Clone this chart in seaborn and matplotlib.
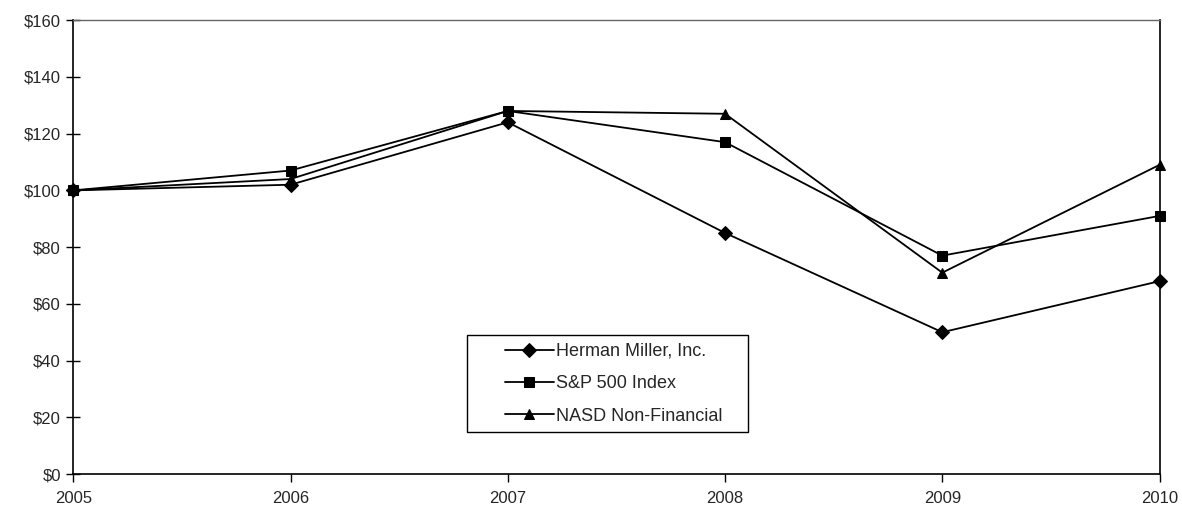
import matplotlib
matplotlib.use("Agg")
import matplotlib.pyplot as plt
import seaborn as sns
import pandas as pd
from matplotlib.ticker import FuncFormatter
from matplotlib.patches import Rectangle

years = [2005, 2006, 2007, 2008, 2009, 2010]
herman_miller = [100, 102, 124, 85, 50, 68]
sp500 = [100, 107, 128, 117, 77, 91]
nasd = [100, 104, 128, 127, 71, 109]
series_names = ["Herman Miller, Inc.", "S&P 500 Index", "NASD Non-Financial"]

df = pd.DataFrame({
    "year": years * 3,
    "value": herman_miller + sp500 + nasd,
    "series": [series_names[0]] * 6 + [series_names[1]] * 6 + [series_names[2]] * 6,
})

sns.set_theme(style="white")
plt.rcParams["font.family"] = ["Liberation Sans", "DejaVu Sans"]

fig = plt.figure(figsize=(11.82, 5.17), dpi=100)
ax = fig.add_axes([0.062, 0.083, 0.919, 0.878])

sns.lineplot(
    data=df, x="year", y="value", hue="series", style="series",
    palette=["black"] * 3, markers=["D", "s", "^"], dashes=False,
    markersize=7, linewidth=1.3, markeredgecolor="black", ax=ax,
)
for ln in ax.lines:
    ln.set_clip_on(False)

ax.set_xlim(2005, 2010)
ax.set_ylim(0, 160)
ax.set_xticks(years)
ax.set_yticks(range(0, 161, 20))
ax.yaxis.set_major_formatter(FuncFormatter(lambda v, p: f"${int(v)}"))
ax.set_xlabel("")
ax.set_ylabel("")
ax.tick_params(axis="x", direction="out", length=6, width=1, color="black", labelsize=12, pad=6)
ax.tick_params(axis="y", direction="inout", length=10, width=1, color="black", labelsize=12, pad=4)
ax.tick_params(left=True, bottom=True)

for s in ["left", "bottom", "right"]:
    ax.spines[s].set_color("black")
    ax.spines[s].set_linewidth(1.2)
ax.spines["top"].set_color("#666666")
ax.spines["top"].set_linewidth(1.0)

W, H = 1182, 517
fig.patches.append(Rectangle((467 / W, 1 - 432 / H), 281 / W, 97 / H,
                             transform=fig.transFigure, fill=False,
                             edgecolor="black", linewidth=1.0, zorder=5))
leg = ax.legend(
    loc="upper left", bbox_to_anchor=(505 / W, 1 - 343 / H),
    bbox_transform=fig.transFigure, frameon=False,
    fontsize=13, handlelength=2.7, borderpad=0, labelspacing=0.85,
    handletextpad=0.1, borderaxespad=0,
)

fig.savefig("out.png", dpi=100)
